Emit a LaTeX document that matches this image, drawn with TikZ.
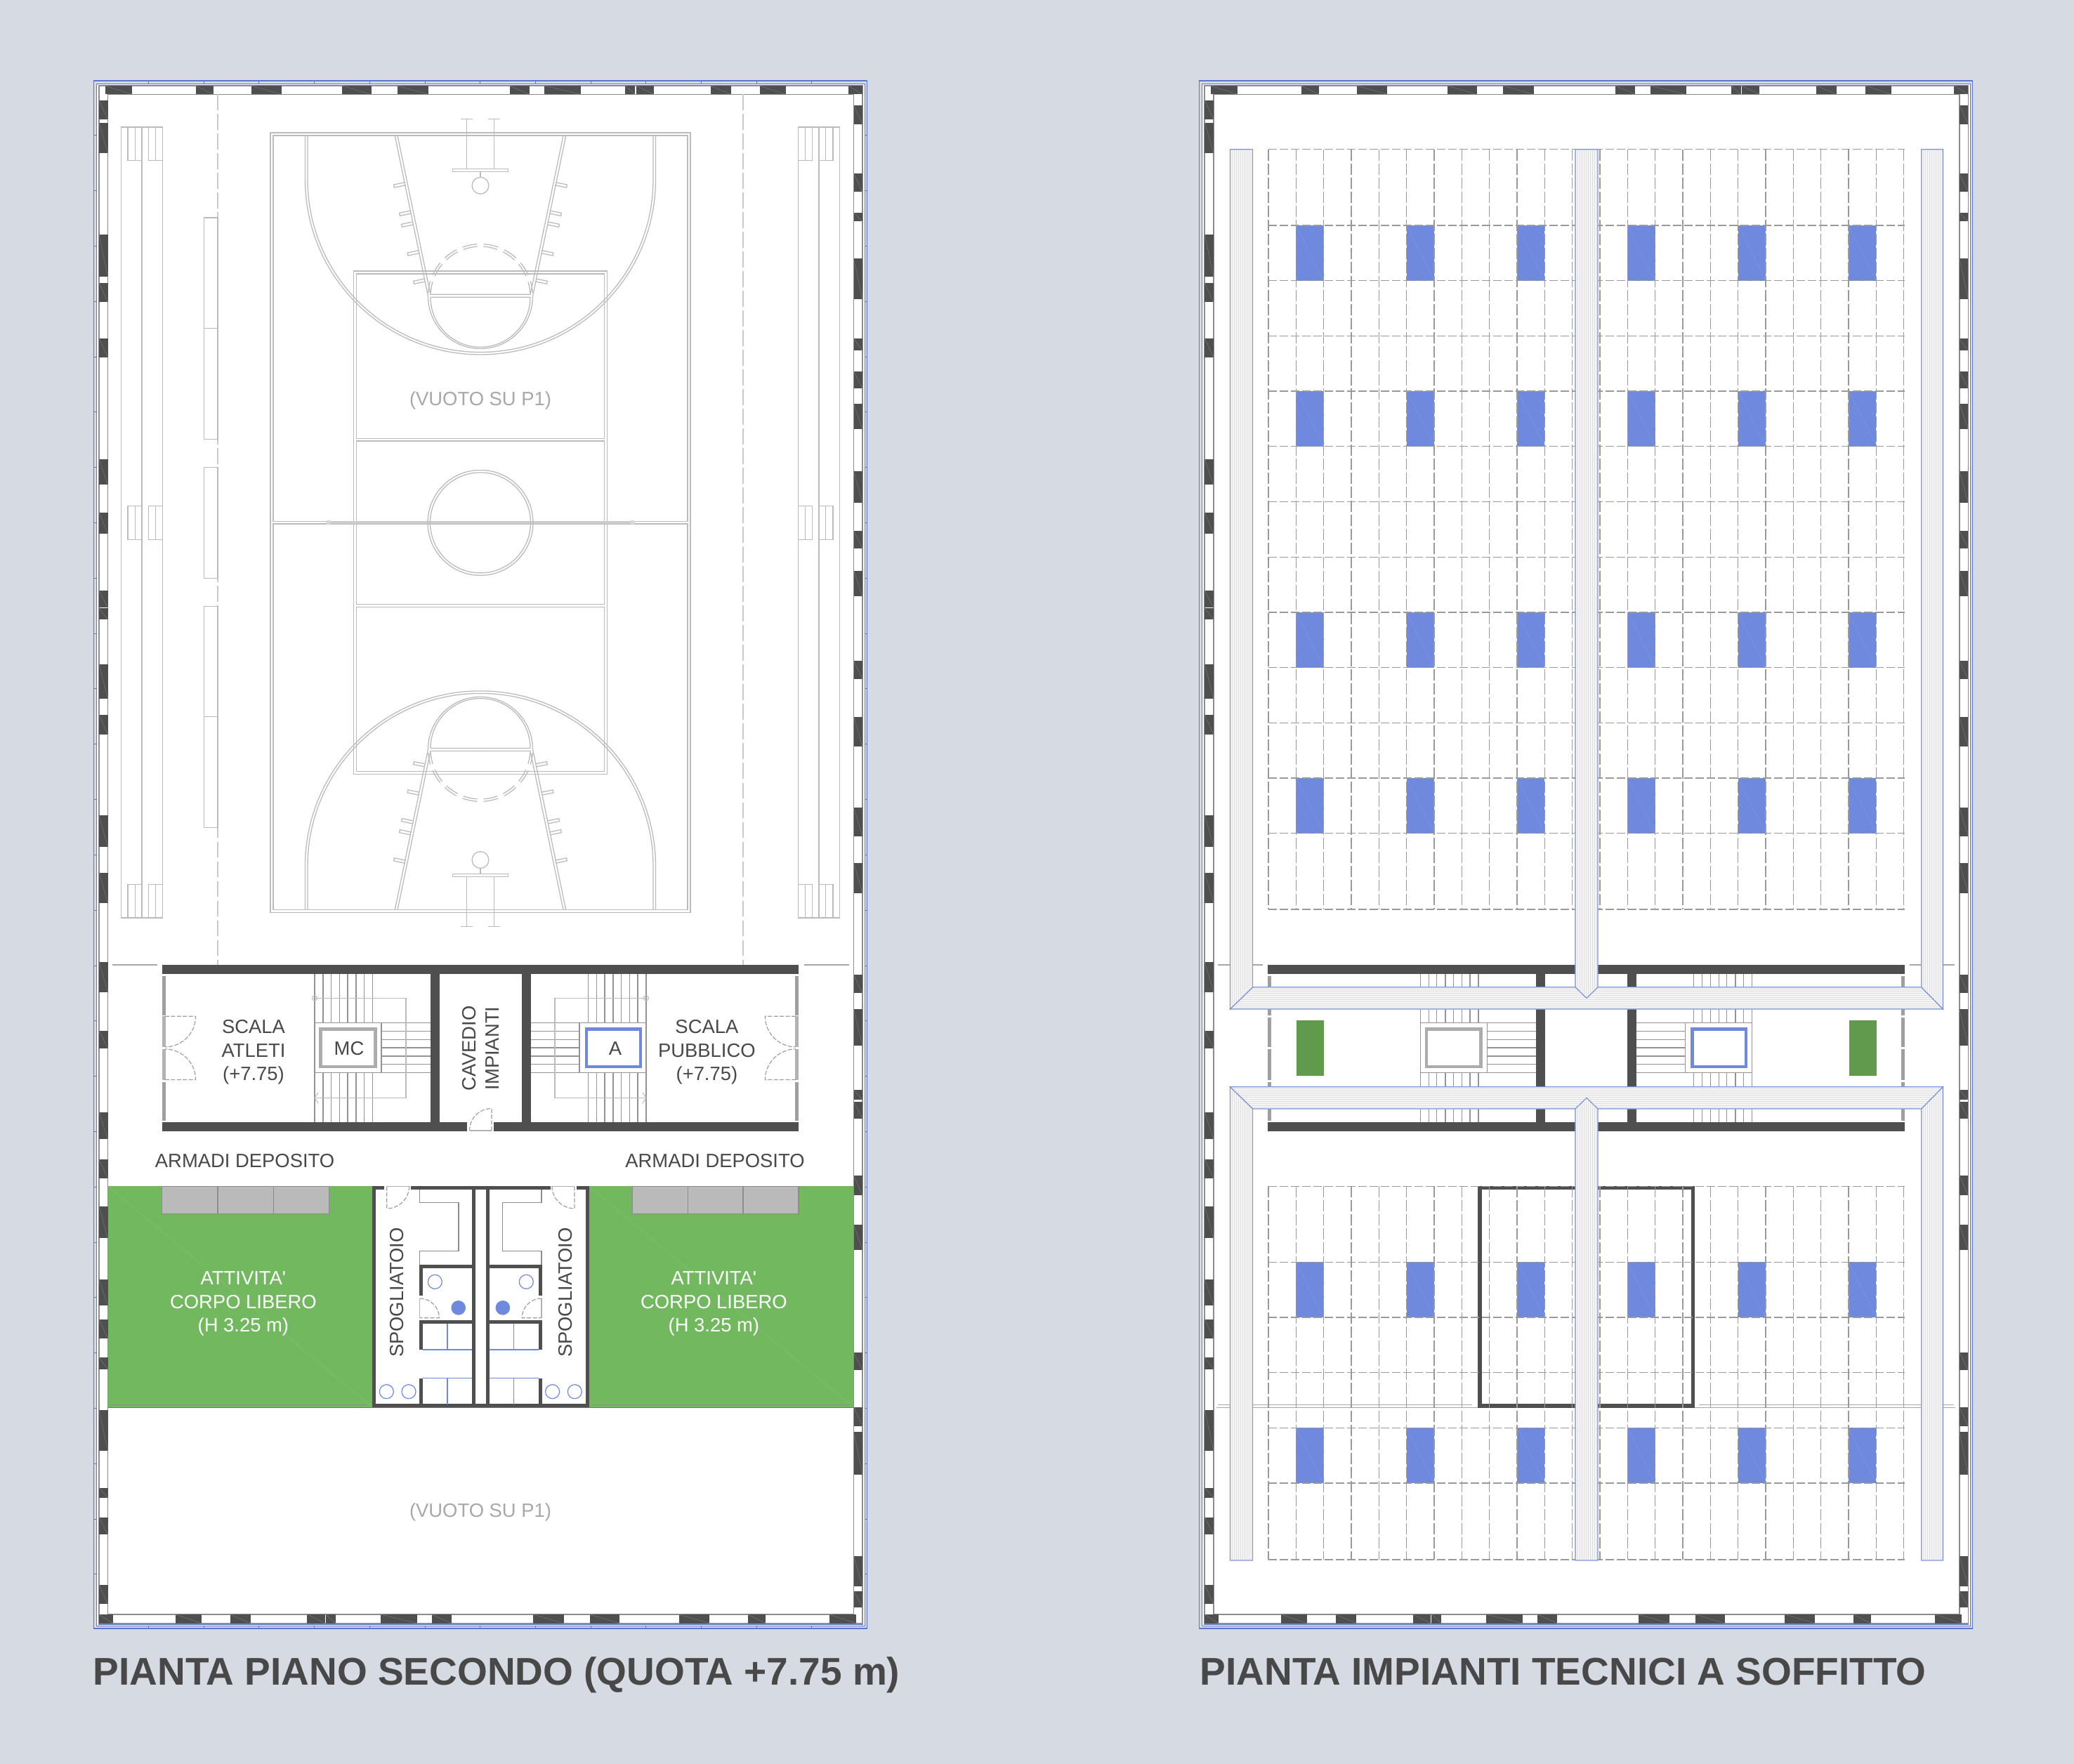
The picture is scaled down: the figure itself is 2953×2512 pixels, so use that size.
\documentclass[tikz,border=0pt]{standalone}
\usepackage{fontspec}
\setmainfont{Liberation Sans}
\newfontfamily\plainf{Liberation Sans}
\definecolor{bgc}{HTML}{D5DAE3}
\definecolor{wallc}{HTML}{4F4F4F}
\definecolor{bluef}{HTML}{6E89DE}
\definecolor{bluel}{HTML}{5A78D2}
\definecolor{greenf}{HTML}{71B85F}
\definecolor{greend}{HTML}{5F9A4D}
\definecolor{courtc}{HTML}{BBBBBB}
\definecolor{txtc}{HTML}{484848}
\tikzset{
 court/.style={draw=courtc,line width=0.32pt},
 framebl/.style={draw=bluel,line width=0.25pt},
 bandl/.style={draw=gray!90,line width=0.42pt},
 stepl/.style={draw=gray!85,line width=0.3pt},
 doorl/.style={draw=gray!75,line width=0.3pt,dash pattern=on 1.5pt off 0.6pt},
 gridl/.style={draw=gray!80,line width=0.33pt},
 ductl/.style={draw=bluef!90!white,line width=0.3pt},
 lab/.style={font=\fontsize{6.85}{8.375}\selectfont,text=txtc,align=center,inner sep=0pt},
 labw/.style={lab,text=white},
 labv/.style={lab,text=courtc!90!black},
 ttl/.style={font=\fontsize{13.75}{16}\bfseries\selectfont,text=txtc,anchor=base west,inner sep=0pt},
}
\newcommand{\planframe}{%
 \draw[draw=bluel,line width=0.28pt,fill=bgc] (133.5,115) rectangle (1234.5,2319);
 \draw[draw=bluel,line width=0.22pt,fill=white] (137,119) rectangle (1231,2315.7);
 \draw[draw=bluel,line width=0.2pt,fill=white] (140,121) rectangle (1228.5,2313);
 \draw[bandl] (141,122) rectangle (1228,2311.7);
 \draw[bandl] (153.5,134.5) rectangle (1215.5,2299);
 \foreach \a/\b in {149.5/188,278.5/304,358/401,487/528.5,565.5/610,725.5/754,775.4/827,890.4/904.2,905.6/931,1011.6/1041,1081.5/1119,1208/1228}{
  \fill[wallc] (\a,122) rectangle (\b,134.5);
  \draw[gray,line width=0.1pt] (\a,122) -- (\b,134.5);}
 \foreach \a/\b in {141/160.6,250/287,327.6/357,437.4/463,464/478,542/593.7,614.6/643,758.5/803,840/881.8,966.9/1010,1064.7/1090,1181/1219}{
  \fill[wallc] (\a,2299) rectangle (\b,2311.7);
  \draw[gray,line width=0.1pt] (\a,2299) -- (\b,2311.7);}
 \foreach \a/\b in {142.9/170,174.6/217.9,333.6/394,403/430.3,481.6/509,654/690.5,730/760,841/865.5,866.5/882,945.7/995,1018/1046,1161/1206,1243/1285.6,1370/1412.7,1468/1492.7,1584.3/1622,1651/1678,1718/1763,1822.2/1859,1878.6/1906,1932.8/1950.2,2008/2066,2118.5/2132.7,2160.5/2185,2257/2284}{
  \fill[wallc] (141,\a) rectangle (153.5,\b);
  \draw[gray,line width=0.1pt] (141,\a) -- (153.5,\b);}
 \foreach \a/\b in {149.7/176.6,247.4/273,302.6/315.4,367.8/425.9,482.5/499.5,529/553,574.6/611.4,671/716,756/781,812.6/849.4,941.4/967,1020.8/1063,1149.7/1190.7,1229/1271.5,1388/1414,1437.3/1489,1552/1566,1568.5/1592.5,1674/1702.4,1744/1780,1925.5/1951.4,2003.8/2030.7,2039/2100,2216/2258.7,2265.8/2288.5}{
  \fill[wallc] (1215.5,\a) rectangle (1228,\b);
  \draw[gray,line width=0.1pt] (1215.5,\a) -- (1228,\b);}
}
\newcommand{\stairflight}{%
 \draw[stepl] (448,1456.7) rectangle (543,1527.7);
 \foreach \y in {1456.7,1468.3,1480.4,1492,1504,1515.6,1527.7} \draw[stepl] (543,\y) -- (613,\y);
 \foreach \x in {448,460,471.4,483.6,495,507,518.6,530.7}{
  \draw[stepl] (\x,1387) -- (\x,1456.7);
  \draw[stepl] (\x,1527.7) -- (\x,1598);}
}
\newcommand{\stairrail}{%
 \draw[draw=courtc,line width=0.28pt] (448,1421.4) -- (578,1421.4) -- (578,1563.4) -- (448,1563.4);
 \draw[draw=courtc,line width=0.28pt] (448,1421.4) circle[radius=3.5];
 \draw[draw=courtc,line width=0.28pt] (453,1556) -- (448,1563.4) -- (453,1571);
}
\newcommand{\corewalls}{%
 \fill[wallc] (230.7,1374) rectangle (1137.3,1387);
 \fill[wallc] (613,1387) rectangle (626,1598);
 \fill[wallc] (743,1387) rectangle (756,1598);
 \foreach \a/\b in {1390/1446,1541/1596}{
  \fill[gray!75] (230.7,\a) rectangle (235.7,\b);
  \fill[gray!75] (1132.3,\a) rectangle (1137.3,\b);}
}
\newcommand{\quartercourt}{%
 \draw[court] (434.5,193) -- (434.5,255.5) arc[start angle=180,end angle=90,radius=249.5];
 \draw[court] (438,193) -- (438,255.5) arc[start angle=180,end angle=90,radius=246];
 \draw[court] (562.2,193) -- (609.5,422) arc[start angle=180,end angle=90,radius=74.5];
 \draw[court] (566,193) -- (610.6,408) -- (613,419.3) -- (684,419.3);
 \draw[court] (684,423.3) -- (613,423.3) arc[start angle=180,end angle=90,radius=71];
 \foreach \a/\b in {184/197,204/220,227/243,250/266.5}{
  \draw[court] ({684+74.5*cos(\a)},{422+74.5*sin(\a)}) arc[start angle=\a,end angle=\b,radius=74.5];
  \draw[court] ({684+71*cos(\a)},{422+71*sin(\a)}) arc[start angle=\a,end angle=\b,radius=71];}
 \foreach \x/\y in {561/265,569/305.3,571.9/321.3,580.5/362,589/402.3}{
  \draw[court] ({\x+16.7},{\y-1.3}) -- ({\x+.4},{\y+2}) -- ({\x-.4},{\y-2}) -- ({\x+15.9},{\y-5.3});}
 \draw[court] (684,240.3) -- (644.5,240.3) -- (644.5,244.7) -- (684,244.7);
 \draw[court] (684,244.7) -- (684,252.4);
 \draw[court] (684,252.4) arc[start angle=-90,end angle=-270,radius=11.9];
 \draw[court] (664.8,240.3) -- (664.8,169.3);
 \draw[court] (656,169.3) -- (672.8,169.3);
}
\newcommand{\bleacher}{%
 \draw[court] (172.4,181) rectangle (231.7,1307);
 \draw[draw=courtc,line width=0.45pt] (201.9,181) -- (201.9,1307);
 \foreach \a/\b in {181/228.6,720.5/768.3,1259.8/1307}{
  \draw[court] (182,\a) rectangle (192.2,\b);
  \draw[court] (192.2,\a) rectangle (201.9,\b);
  \draw[court] (211.6,\a) rectangle (221.7,\b);
  \draw[court] (221.7,\a) rectangle (231.7,\b);}
 \draw[draw=courtc!80,line width=0.27pt,dash pattern=on 5.6pt off 1.4pt] (310,134.5) -- (310,1374);
}
\newcommand{\spoghalf}{%
 \fill[wallc] (530,1689) rectangle (535,2004.3);
 \fill[wallc] (530,1999.3) rectangle (684.3,2004.3);
 \fill[wallc] (530,1689) rectangle (547.3,1694);
 \fill[wallc] (585,1689) rectangle (684.3,1694);
 \fill[wallc] (672,1694) rectangle (676.7,2000);
 \draw[draw=gray!90,line width=0.3pt] (597.7,1694) -- (597.7,1712.7) -- (653,1712.7) -- (653,1781.7) -- (597.7,1781.7) -- (597.7,1802);
 \fill[wallc] (597,1801) rectangle (676.7,1805.7);
 \fill[wallc] (597,1801) rectangle (601.7,1845.3);
 \fill[wallc] (597,1879.7) rectangle (676.7,1884.7);
 \fill[wallc] (597,1879.7) rectangle (601.7,1922);
 \fill[wallc] (597,1962.7) rectangle (601.7,2000);
 \draw[draw=gray!60,line width=0.3pt] (550.7,1689.5) -- (582.7,1689.5);
 \draw[doorl] (550.7,1689.5) -- (550.7,1721) arc[start angle=90,end angle=0,radius=32];
 \draw[draw=gray!60,line width=0.3pt] (597.7,1849) -- (597.7,1876.7);
 \draw[doorl] (597.7,1849) arc[start angle=-90,end angle=0,radius=27.7] -- (597.7,1876.7);
 \draw[draw=bluef,line width=0.35pt] (601.7,1922) -- (672,1922);
 \draw[draw=bluef,line width=0.35pt] (637,1884.7) -- (637,1922);
 \draw[draw=bluef,line width=0.35pt] (601.7,1962.7) -- (672,1962.7);
 \draw[draw=bluef,line width=0.35pt] (637,1962.7) -- (637,2000);
 \draw[draw=bluef,line width=0.3pt] (619.3,1825.3) circle[radius=10];
 \fill[bluef] (652.7,1862.3) circle[radius=10.3];
 \draw[draw=bluef,line width=0.3pt] (550.3,1981.7) circle[radius=10];
 \draw[draw=bluef,line width=0.3pt] (582,1981.7) circle[radius=10];
}
\begin{document}
\begin{tikzpicture}[x=0.25pt,y=-0.25pt]
\useasboundingbox (0,0) rectangle (2953,2512);
\fill[bgc] (0,0) rectangle (2953,2512);
% ---------- left plan ----------
\planframe
\foreach \k in {0,...,12}{
 \draw[framebl] ({211.5+78.7*\k},115) -- ({211.5+78.7*\k},119);
 \draw[framebl] ({211.5+78.7*\k},2315.7) -- ({211.5+78.7*\k},2319);}
\foreach \k in {0,...,26}{
 \draw[framebl] (133.5,{193+78.8*\k}) -- (137,{193+78.8*\k});
 \draw[framebl] (1231,{193+78.8*\k}) -- (1234.5,{193+78.8*\k});}
% bleachers and benches
\bleacher
\begin{scope}[shift={(1368,0)},xscale=-1]\bleacher\end{scope}
\foreach \a/\b in {310/467.8,467.8/625.4,665.6/823.2,863.4/1020.5,1020.5/1178.6}
 \draw[court] (290.5,\a) rectangle (310,\b);
% court
\draw[court] (385,189) rectangle (983,1299.5);
\draw[court] (389,193) rectangle (979,742.4);
\draw[court] (389,746) rectangle (979,1295.5);
\draw[court] (503.5,386) rectangle (864.5,1102.5);
\draw[court] (507.5,390) rectangle (860.5,624.3);
\draw[court] (507.5,628) rectangle (860.5,860.3);
\draw[court] (507.5,864.3) rectangle (860.5,1098.5);
\fill[courtc!75] (467.6,742.4) rectangle (900.4,746);
\draw[court] (684,744.4) circle[radius=75];
\draw[court] (684,744.4) circle[radius=71.5];
\fill[courtc!60] (467.6,744.2) circle[radius=3.5];
\fill[courtc!60] (900.4,744.2) circle[radius=3.5];
\quartercourt
\begin{scope}[shift={(1368,0)},xscale=-1]\quartercourt\end{scope}
\begin{scope}[shift={(0,1488.9)},yscale=-1]\quartercourt\end{scope}
\begin{scope}[shift={(1368,1488.9)},xscale=-1,yscale=-1]\quartercourt\end{scope}
\node[labv] (vuoto1) at (684,570.5) {(VUOTO SU P1)};
\node[labv] (vuoto2) at (684,2153.5) {(VUOTO SU P1)};
% core
\draw[draw=gray!70,line width=0.3pt] (160,1374) -- (224,1374);
\draw[draw=gray!70,line width=0.3pt] (1145,1374) -- (1209,1374);
\stairflight\stairrail
\begin{scope}[shift={(1368,0)},xscale=-1]\stairflight\stairrail\end{scope}
\corewalls
\fill[wallc] (230.7,1598) rectangle (665,1611);
\fill[wallc] (703,1598) rectangle (1137.3,1611);
\foreach \a/\b in {1447/1490.6,1494/1537.5}{
 \fill[gray!60] (230.7,\a) rectangle (235.7,\b);
 \fill[gray!60] (1132.3,\a) rectangle (1137.3,\b);}
\foreach \m in {0,1}{
\begin{scope}[shift={(1368*\m,0)},xscale={1-2*\m}]
 \draw[doorl] (235,1447.3) -- (278.6,1447.3) arc[start angle=0,end angle=90,radius=43.6];
 \draw[doorl] (235,1537.5) -- (278.6,1537.5) arc[start angle=0,end angle=-90,radius=43.6];
\end{scope}}
\draw[draw=gray!60,line width=0.3pt] (668.6,1610) -- (700,1610);
\draw[doorl] (700,1610) -- (700,1578.5) arc[start angle=-90,end angle=-180,radius=31.5];
\draw[draw=gray!65,line width=1.15pt] (456.5,1465.6) rectangle (534.2,1518.8);
\draw[draw=bluef,line width=1.15pt] (835,1465.6) rectangle (911.8,1518.8);
\node[lab] (mc) at (497,1493) {MC};
\node[lab] (aa) at (876,1493) {A};
\node[lab] (sa) at (361,1498.5) {SCALA\\ATLETI\\(+7.75)};
\node[lab] (sp) at (1006.4,1498.5) {SCALA\\PUBBLICO\\(+7.75)};
\node[lab,rotate=90] (cav) at (684.5,1493) {CAVEDIO\\IMPIANTI};
\node[lab] (ar1) at (348.6,1652.7) {ARMADI DEPOSITO};
\node[lab] (ar2) at (1018,1652.7) {ARMADI DEPOSITO};
% green rooms
\fill[greenf] (153.6,1689.3) rectangle (530.7,2004.5);
\fill[greenf] (838.6,1689.3) rectangle (1215.4,2004.5);
\draw[draw=greenf!88!white,line width=0.12pt] (153.6,1689.3) -- (530.7,2004.5);
\draw[draw=greenf!88!white,line width=0.12pt] (838.6,1689.3) -- (1215.4,2004.5);
\draw[draw=gray!90,line width=0.3pt] (159,2000.4) -- (523.6,2000.4);
\draw[draw=gray!90,line width=0.3pt] (845,2000.4) -- (1210,2000.4);
\draw[draw=black!55,line width=0.42pt] (153.6,2004.6) -- (1215.4,2004.6);
\foreach \a/\b in {230.7/310,310/389.3,389.3/468.6,900.7/979.3,979.3/1057.9,1057.9/1137}
 \draw[draw=gray!90,fill=black!27,line width=0.35pt] (\a,1689.3) rectangle (\b,1728.6);
\spoghalf
\begin{scope}[shift={(1368.6,0)},xscale=-1]\spoghalf\end{scope}
\node[labw] (at1) at (346.4,1856.5) {{\plainf ATTIVITA'}\\CORPO LIBERO\\(H 3.25 m)};
\node[labw] (at2) at (1016.4,1856.5) {{\plainf ATTIVITA'}\\CORPO LIBERO\\(H 3.25 m)};
\node[lab,rotate=90] (sp1) at (565,1840.5) {SPOGLIATOIO};
\node[lab,rotate=90] (sp2) at (805,1840.5) {SPOGLIATOIO};
% ---------- right plan ----------
\begin{scope}[shift={(1574.3,0)}]
 \planframe
 \draw[draw=gray!70,line width=0.3pt] (160,1374) -- (224,1374);
 \draw[draw=gray!70,line width=0.3pt] (1145,1374) -- (1209,1374);
 \stairflight
 \begin{scope}[shift={(1368,0)},xscale=-1]\stairflight\end{scope}
 \corewalls
 \fill[wallc] (230.7,1598) rectangle (1137.3,1611);
 \foreach \a/\b in {1449/1490.6,1494/1537.5}{
  \fill[gray!75] (230.7,\a) rectangle (235.7,\b);
  \fill[gray!75] (1132.3,\a) rectangle (1137.3,\b);}
 \draw[draw=gray!65,line width=1.15pt] (456.5,1465.6) rectangle (534.2,1518.8);
 \draw[draw=bluef,line width=1.15pt] (835,1465.6) rectangle (911.8,1518.8);
 \draw[draw=gray!70,line width=0.3pt] (160,2000.4) -- (522,2000.4);
 \draw[draw=gray!70,line width=0.3pt] (845,2000.4) -- (1208,2000.4);
 \draw[draw=gray!70,line width=0.3pt] (158,2004.5) -- (530,2004.5);
 \draw[draw=gray!70,line width=0.3pt] (839,2004.5) -- (1210,2004.5);
 \draw[wallc,line width=1.35pt] (532.5,1691.5) rectangle (836.2,2001.8);
\end{scope}
\fill[greend] (1845.7,1453) rectangle (1885,1532);
\fill[greend] (2632.9,1453) rectangle (2672,1532);
% blue units and ceiling grid
\foreach \i in {1,5,9,13,17,21}{
 \foreach \y in {321,557,872,1108,1797.3,2033.4}{
  \fill[bluef] ({1806+39.33*\i},\y) rectangle ({1845.33+39.33*\i},\y+78.7);
  \draw[draw=bluef!88!white,line width=0.12pt] ({1806+39.33*\i},\y) -- ({1845.33+39.33*\i},\y+78.7);}}
\foreach \i in {0,...,23}{
 \draw[gridl,dash pattern=on 4pt off 1pt] ({1806+39.33*\i},212.7) -- ({1806+39.33*\i},1295);
 \draw[gridl,dash pattern=on 4pt off 1pt] ({1806+39.33*\i},1689.3) -- ({1806+39.33*\i},2221);}
\foreach \y in {212.7,321,399.7,478.4,557,635.8,714.5,793.2,871.9,950.6,1029.3,1108,1186.7,1295,1689.3,1797.3,1876,1954.7,2033.4,2112,2221}
 \draw[gridl,dash pattern=on 3pt off 1pt] (1806,\y) -- (2711.5,\y);
% ducts
\newcommand{\ductv}[1]{%
 \fill[black!4] #1; 
 \begin{scope}\clip #1;
 \foreach \x in {1751,1754,...,2770} \draw[black!12,line width=0.15pt] (\x,200) -- (\x,2230);
 \end{scope}
 \draw[ductl] #1;}
\newcommand{\ducth}[1]{%
 \fill[black!4] #1;
 \begin{scope}\clip #1;
 \foreach \y in {1405,1408,...,1440,1547,1550,...,1582} \draw[black!12,line width=0.15pt] (1750,\y) -- (2768,\y);
 \end{scope}
 \draw[ductl] #1;}
\ducth{(1783.6,1405.8) -- (2735.7,1405.8) -- (2766.4,1437) -- (1751.4,1437) -- cycle}
\ducth{(1751.4,1547.8) -- (2766.4,1547.8) -- (2735.7,1579) -- (1783.6,1579) -- cycle}
\ductv{(1751.4,212.7) -- (1783.6,212.7) -- (1783.6,1405.8) -- (1751.4,1437) -- cycle}
\ductv{(2735.7,212.7) -- (2766.4,212.7) -- (2766.4,1437) -- (2735.7,1405.8) -- cycle}
\ductv{(2242.9,212.7) -- (2275,212.7) -- (2275,1405.8) -- (2259,1421.4) -- (2242.9,1405.8) -- cycle}
\ductv{(1751.4,1547.8) -- (1783.6,1579) -- (1783.6,2222) -- (1751.4,2222) -- cycle}
\ductv{(2766.4,1547.8) -- (2735.7,1579) -- (2735.7,2222) -- (2766.4,2222) -- cycle}
\ductv{(2259,1563.4) -- (2275,1579) -- (2275,2222) -- (2242.9,2222) -- (2242.9,1579) -- cycle}
% titles
\node[ttl] (t1) at (132,2399) {PIANTA PIANO SECONDO (QUOTA +7.75 m)};
\node[ttl] (t2) at (1708,2399) {PIANTA IMPIANTI TECNICI A SOFFITTO};
\end{tikzpicture}
\end{document}
